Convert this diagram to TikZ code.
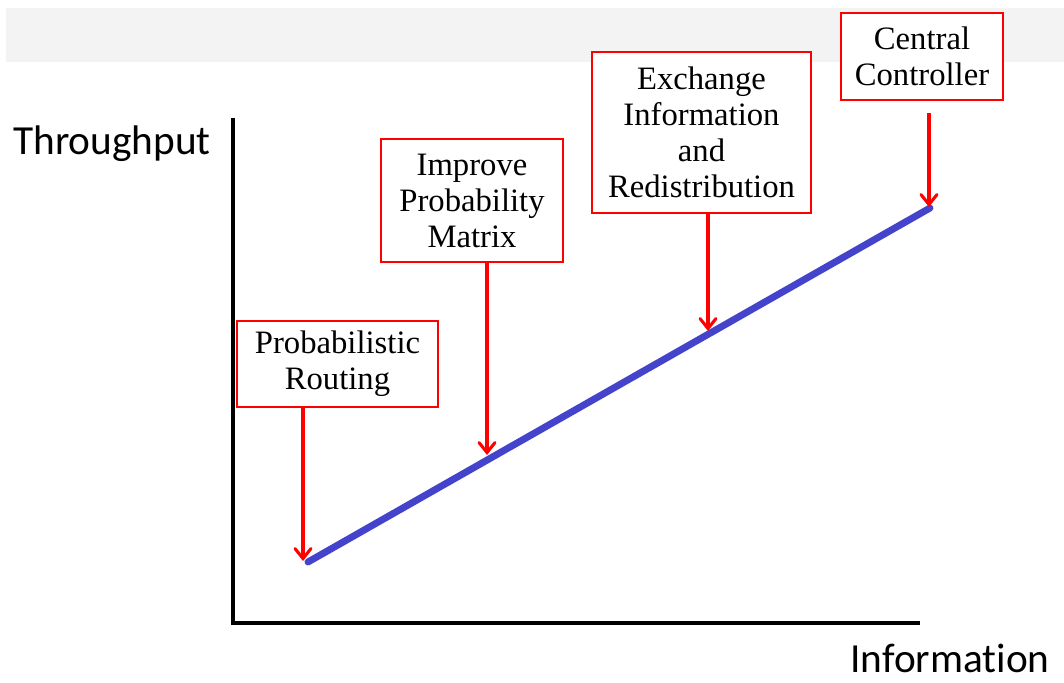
\documentclass[tikz,border=0pt]{standalone}
\usepackage{fontspec}
\setmainfont{Liberation Serif}
\newfontfamily\axisfont[Ligatures=NoCommon]{Carlito}
\usepackage{tikz}
\usetikzlibrary{arrows.meta}
\definecolor{stepred}{HTML}{FF0000}
\definecolor{trendblue}{HTML}{4343CC}
\definecolor{bandgray}{HTML}{F3F3F3}

\begin{document}
\begin{tikzpicture}[
  x=0.75pt,
  y=-0.75pt,
  stepbox/.style={
    rectangle,
    draw=stepred,
    fill=white,
    line width=1.5pt,
    align=center,
    inner sep=2pt,
    font=\fontsize{24.5}{27}\selectfont
  },
  pointer/.style={
    -{Straight Barb[length=7.5pt,width=12pt,line cap=round]},
    draw=stepred,
    line width=2.3pt
  },
  axis/.style={
    draw=black,
    line width=2.6pt
  },
  trend/.style={
    draw=trendblue,
    line width=5.2pt,
    line cap=round
  },
  axislabel/.style={
    font=\axisfont\fontsize{31}{34}\selectfont,
    inner sep=0pt,
    anchor=base
  }
]

\useasboundingbox (0,0) rectangle (1064,682);
\fill[bandgray] (6,8) rectangle (1064,62);

% Axes
\draw[axis] (233,118) -- (233,623) -- (920,623);
\node[axislabel] (ylabel) at (112,154) {Throughput};
\node[axislabel] (xlabel) at (950,672) {Information};

% Trend line and the points it is labelled at
\coordinate (lo) at (308,562);
\coordinate (hi) at (930,208);
\draw[trend] (lo) -- (hi);

\coordinate (tipa) at (303,561);
\coordinate (tipb) at (487,455);
\coordinate (tipc) at (708,331);
\coordinate (tipd) at (929,207);

% Labels, left to right
\node[stepbox, minimum width=150.75pt, minimum height=64.5pt]  (routing)    at (337.5,364) {Probabilistic\\Routing};
\node[stepbox, minimum width=136.5pt,  minimum height=92.25pt] (matrix)     at (472,200.5) {Improve\\Probability\\Matrix};
\node[stepbox, minimum width=164.25pt, minimum height=120.75pt] (exchange)  at (701.5,132.5) {Exchange\\Information\\and\\Redistribution};
\node[stepbox, minimum width=121.5pt,  minimum height=65.25pt] (controller) at (922,56.5) {Central\\Controller};

% Pointers down to the line
\draw[pointer] (routing.south -| tipa) -- (tipa);
\draw[pointer] (matrix.south -| tipb) -- (tipb);
\draw[pointer] (exchange.south -| tipc) -- (tipc);
\draw[pointer, shorten <=9pt] (controller.south -| tipd) -- (tipd);

\end{tikzpicture}
\end{document}
